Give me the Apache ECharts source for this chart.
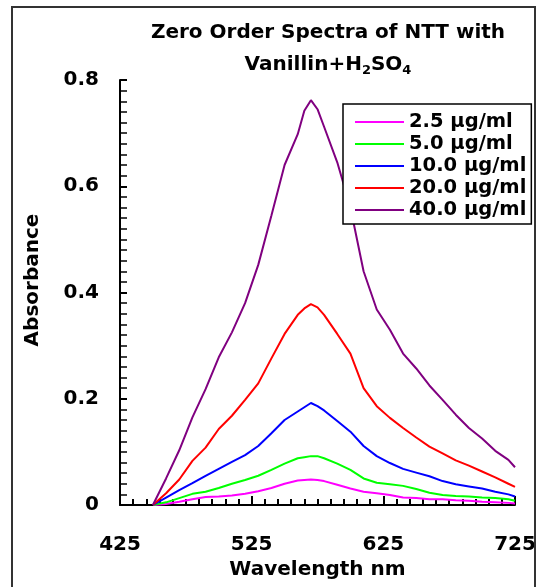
<!DOCTYPE html>
<html>
<head>
<meta charset="utf-8">
<script src="https://cdn.jsdelivr.net/npm/echarts@6/dist/echarts.min.js"></script>
<style>html,body{margin:0;padding:0;background:#fff;}#chart{width:543px;height:587px;}</style>
</head>
<body>
<div id="chart"></div>
<script>
const wavelengths = [450,460,470,480,490,500,510,520,530,540,550,560,565,570,575,580,590,600,610,620,630,640,650,660,670,680,690,700,710,720,725];
const conc2_5  = [0,0.002,0.006,0.011,0.015,0.016,0.018,0.021,0.026,0.032,0.040,0.046,0.047,0.048,0.047,0.045,0.038,0.031,0.025,0.022,0.019,0.014,0.013,0.011,0.011,0.009,0.008,0.006,0.005,0.004,0.003];
const conc5_0  = [0,0.005,0.013,0.021,0.025,0.032,0.040,0.047,0.055,0.066,0.078,0.088,0.090,0.092,0.092,0.088,0.078,0.066,0.050,0.042,0.039,0.036,0.030,0.023,0.019,0.017,0.016,0.014,0.013,0.011,0.008];
const conc10_0 = [0,0.014,0.028,0.041,0.055,0.068,0.081,0.094,0.111,0.135,0.160,0.176,0.184,0.192,0.186,0.178,0.158,0.138,0.111,0.092,0.079,0.068,0.061,0.054,0.045,0.039,0.035,0.031,0.025,0.020,0.016];
const conc20_0 = [0,0.022,0.048,0.083,0.108,0.143,0.168,0.198,0.229,0.276,0.322,0.358,0.370,0.378,0.372,0.358,0.322,0.285,0.220,0.186,0.164,0.145,0.127,0.110,0.097,0.084,0.074,0.063,0.052,0.040,0.034];
const conc40_0 = [0,0.050,0.103,0.165,0.218,0.278,0.325,0.380,0.452,0.545,0.640,0.698,0.742,0.762,0.745,0.712,0.645,0.560,0.440,0.368,0.330,0.285,0.257,0.225,0.198,0.170,0.145,0.125,0.102,0.085,0.071];
const seriesNames = ['2.5 µg/ml','5.0 µg/ml','10.0 µg/ml','20.0 µg/ml','40.0 µg/ml'];
const seriesColors = ['#FF00FF','#00FF00','#0000FF','#FF0000','#800080'];
const xLabelTicks = [425,525,625,725];
const xTickSpan = [0,300];   // tick ruler: offset from 425 nm, major every 100 nm, minor every 10 nm
const yTicks = [0,0.2,0.4,0.6,0.8];

const FONT = '"DejaVu Sans", "Liberation Sans", Arial, sans-serif';
const allValues = [conc2_5, conc5_0, conc10_0, conc20_0, conc40_0];

const chart = echarts.init(document.getElementById('chart'), null, {renderer: 'canvas'});
const grid = {left: 120, right: 28, top: 80, bottom: 82};
const rulerAxis = (gi, minor, len) => ({
  type: 'value', gridIndex: gi, min: xTickSpan[0], max: xTickSpan[1], interval: minor ? 10 : 100,
  axisLine: {show: false},
  axisTick: {show: true, inside: true, length: len, lineStyle: {color: '#000', width: 2}},
  axisLabel: {show: false},
  splitLine: {show: true, lineStyle: {color: '#000', width: 2}}
});
const option = {
  animation: false,
  backgroundColor: '#fff',
  grid: [
    Object.assign({}, grid),
    {left: 120, right: 28, top: 587 - 82 - 6, height: 6},
    {left: 120, right: 28, top: 587 - 82 - 9, height: 9}
  ],
  graphic: [
    {type: 'rect', shape: {x: 12, y: 7, width: 523, height: 620}, style: {fill: 'none', stroke: '#333', lineWidth: 2}, z: 100, silent: true},
    {type: 'text', x: 328, y: 17, z: 100, style: {
      text: 'Zero Order Spectra of NTT with\nVanillin+H{s|2}SO{s|4}',
      font: 'bold 20px ' + FONT, fill: '#000', align: 'center', verticalAlign: 'top', lineHeight: 32,
      rich: {s: {fontSize: 13, fontWeight: 'bold', fontFamily: FONT, fill: '#000', padding: [11, 0, 0, 0]}}
    }},
    {type: 'text', x: 33, y: 280, rotation: Math.PI / 2, z: 100, style: {
      text: 'Absorbance', font: 'bold 20px ' + FONT, fill: '#000', align: 'center', verticalAlign: 'middle'
    }}
  ],
  legend: {
    orient: 'vertical', left: 343, top: 104,
    data: seriesNames,
    icon: 'path://M0,0H49V2.2H0Z',
    backgroundColor: '#fff', borderColor: '#000', borderWidth: 1.5, borderRadius: 0,
    padding: [8, 5, 4, 12],
    itemWidth: 49, itemHeight: 14, itemGap: 2,
    textStyle: {fontSize: 19.5, fontWeight: 'bold', fontFamily: FONT, color: '#000', lineHeight: 18},
    z: 50
  },
  xAxis: [{
    type: 'value', gridIndex: 0, min: 425, max: 725,
    name: 'Wavelength nm', nameLocation: 'middle', nameGap: 52,
    nameTextStyle: {fontSize: 20, fontWeight: 'bold', fontFamily: FONT, color: '#000'},
    axisLine: {show: true, onZero: false, lineStyle: {color: '#000', width: 2}},
    axisTick: {show: true, inside: true, length: 9, customValues: xLabelTicks, lineStyle: {color: '#000', width: 2}},
    axisLabel: {show: true, customValues: xLabelTicks, margin: 30, fontSize: 20, fontWeight: 'bold', fontFamily: FONT, color: '#000'},
    splitLine: {show: false}
  }, rulerAxis(1, true, 6), rulerAxis(2, false, 9)],
  yAxis: [{
    type: 'value', gridIndex: 0, min: 0, max: 0.8, interval: 0.2,
    axisLine: {show: true, onZero: false, lineStyle: {color: '#000', width: 2}},
    axisTick: {show: true, inside: true, length: 7, lineStyle: {color: '#000', width: 2}},
    minorTick: {show: true, splitNumber: 10, length: 7, lineStyle: {color: '#000', width: 1.5}},
    axisLabel: {margin: 21, fontSize: 20, fontWeight: 'bold', fontFamily: FONT, color: '#000',
      formatter: v => (v === 0 ? '0' : v.toFixed(1))},
    splitLine: {show: false}
  }, {
    type: 'value', gridIndex: 1, min: 0, max: 1, show: false
  }, {
    type: 'value', gridIndex: 2, min: 0, max: 1, show: false
  }],
  series: allValues.map((vals, i) => ({
    type: 'line', name: seriesNames[i], xAxisIndex: 0, yAxisIndex: 0,
    data: wavelengths.map((w, j) => [w, vals[j]]),
    symbol: 'none', smooth: false,
    lineStyle: {color: seriesColors[i], width: 2},
    itemStyle: {color: seriesColors[i]},
    z: 2 + i
  }))
};
chart.setOption(option);
</script>
</body>
</html>
